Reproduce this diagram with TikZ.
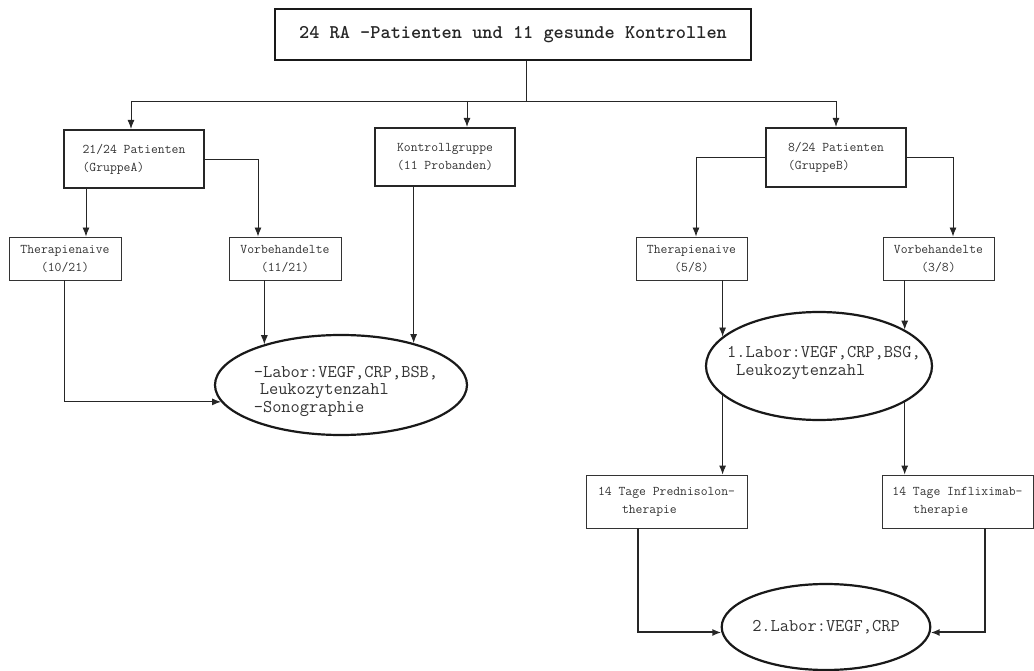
\documentclass[tikz,border=0pt]{standalone}
\usepackage{fontspec}
\usetikzlibrary{shapes.geometric,arrows.meta,calc}
\begin{document}
\begin{tikzpicture}[x=1pt,y=-1pt,
  boxtxt/.style={font=\ttfamily\fontsize{13.3}{18}\selectfont, text=black!80, align=center, inner sep=0pt},
  gbox/.style={boxtxt, draw=black!85, line width=2.2pt, minimum width=140pt, minimum height=58pt},
  tbox/.style={boxtxt, draw=black!80, line width=0.9pt, minimum width=112pt, minimum height=43pt},
  ell/.style={ellipse, draw=black!90, line width=2.2pt, inner sep=0pt},
  elltxt/.style={font=\ttfamily\fontsize{17.9}{17.5}\selectfont, text=black!80, align=left, inner sep=0pt},
  conn/.style={draw=black!85, line width=0.9pt},
  arr/.style={conn, -{Latex[length=9pt,width=7pt]}},
  tarr/.style={draw=black!85, line width=2pt, -{Latex[length=9pt,width=7pt]}}
]
\useasboundingbox (0,0) rectangle (1034,671);

% title
\node[draw=black!90, line width=2.4pt, minimum width=476pt, minimum height=51pt, inner sep=0pt,
      font=\ttfamily\bfseries\fontsize{19.4}{22}\selectfont, text=black!85] (title) at (513,34.5)
      {24 RA -Patienten und 11 gesunde Kontrollen};

% group boxes
\node[gbox, align=left] (gA) at (134,159) {21/24 Patienten\\(GruppeA)};
\node[gbox] (kon) at (445,157) {Kontrollgruppe\\(11 Probanden)};
\node[gbox, align=left, minimum height=59pt] (gB) at (836,157.5) {8/24 Patienten\\(GruppeB)};

% sub boxes
\node[tbox] (thA) at (65,258.5) {Therapienaive\\(10/21)};
\node[tbox] (vbA) at (285,258.5) {Vorbehandelte\\(11/21)};
\node[tbox, minimum width=111pt] (thB) at (691.5,258.5) {Therapienaive\\(5/8)};
\node[tbox, minimum width=111pt] (vbB) at (938.5,258.5) {Vorbehandelte\\(3/8)};

% ellipses
\node[ell, minimum width=252pt, minimum height=100pt] (e1) at (341,385) {};
\node[elltxt] (e1t) at (346,391) {-Labor:VEGF,CRP,BSB,\\\hspace*{6pt}Leukozytenzahl\\-Sonographie};
\node[ell, minimum width=226pt, minimum height=108pt] (e2) at (819,366) {};
\node[elltxt] (e2t) at (824,363) {1.Labor:VEGF,CRP,BSG,\\\hspace*{9pt}Leukozytenzahl};
\node[ell, minimum width=188pt, minimum height=86pt, font=\ttfamily\fontsize{17.9}{17.5}\selectfont, text=black!80] (e3) at (826,627) {2.Labor:VEGF,CRP};

% therapy boxes
\node[tbox, align=left, minimum width=161pt, minimum height=53pt] (pred) at (666.5,501.5) {14 Tage Prednisolon-\\\hspace*{24pt}therapie};
\node[tbox, align=left, minimum width=151pt, minimum height=53pt] (infl) at (957.5,501.5) {14 Tage Infliximab-\\\hspace*{21pt}therapie};

% top distribution
\coordinate (split) at (526,101);
\coordinate (hl) at (131,101);
\coordinate (hm) at (467,101);
\coordinate (hr) at (836,101);
\draw[conn] (title.south -| split) -- (split);
\draw[conn] (hl) -- (hr);
\draw[arr] (hl) -- (hl |- gA.north);
\draw[arr] (hm) -- (hm |- kon.north);
\draw[arr] (hr) -- (hr |- gB.north);

% group A
\draw[arr] ([xshift=-48pt]gA.south) -- ([xshift=-48pt]gA.south |- thA.north);
\draw[arr] (gA.east) -| ([xshift=-27pt]vbA.north);
\draw[arr] ([xshift=-1pt]thA.south) |- (e1.188);
\draw[arr] (vbA.south -| e1.152) -- (e1.152);
\draw[arr] (kon.south -| e1.30) -- (e1.30);

% group B
\draw[arr] (gB.west) -| ([xshift=4.5pt]thB.north);
\draw[arr] (gB.east) -| ([xshift=14.5pt]vbB.north);
\draw[arr] (thB.south -| e2.163) -- (e2.163);
\draw[arr] (vbB.south -| e2.23) -- (e2.23);
\draw[arr] (e2.197) -- (e2.197 |- pred.north);
\draw[arr] (e2.337) -- (e2.337 |- infl.north);
\draw[tarr] ([xshift=-28.5pt]pred.south) |- (e3.183);
\draw[tarr] ([xshift=27.5pt]infl.south) |- (e3.357);
\end{tikzpicture}
\end{document}
